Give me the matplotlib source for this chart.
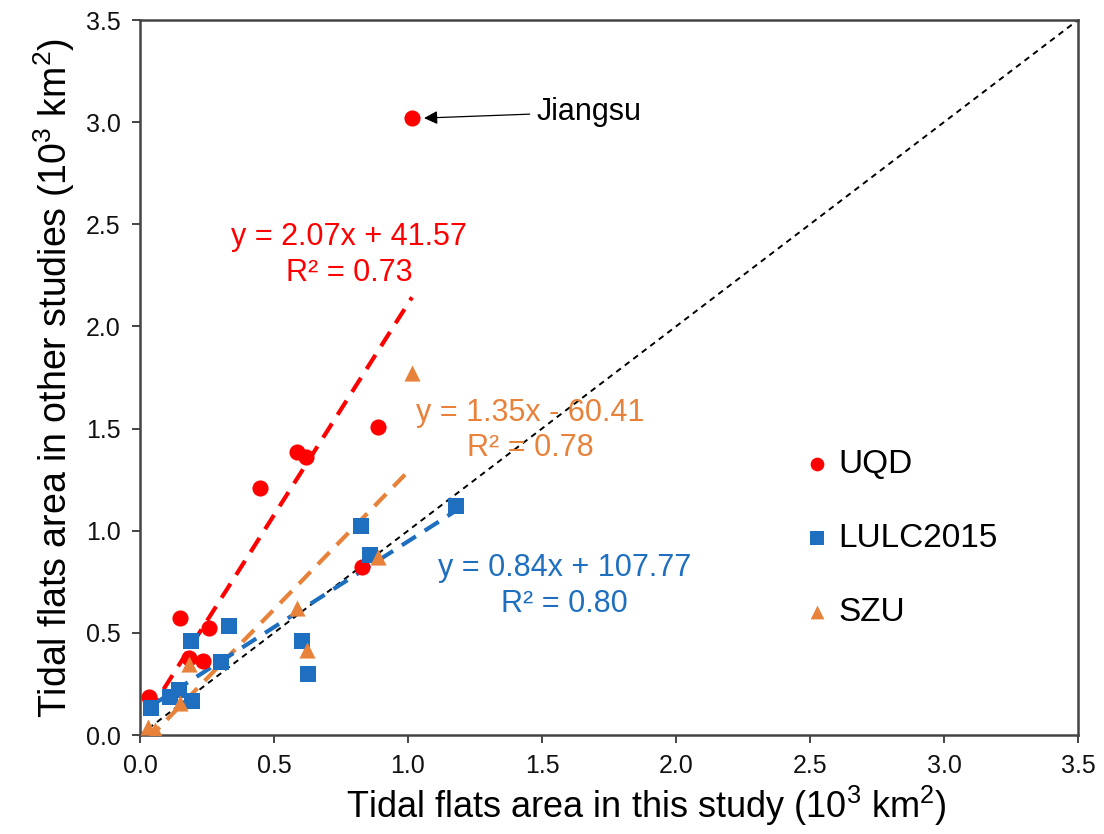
import matplotlib
matplotlib.use("Agg")
import matplotlib.pyplot as plt
import numpy as np

plt.rcParams['font.family'] = ['Liberation Sans', 'DejaVu Sans']
plt.rcParams['mathtext.fontset'] = 'custom'
plt.rcParams['mathtext.rm'] = 'Liberation Sans'

# Data (10^3 km^2)
uqd_x = [1.015, 0.448, 0.586, 0.619, 0.888, 0.828, 0.149, 0.257, 0.183, 0.235, 0.034]
uqd_y = [3.02, 1.209, 1.385, 1.36, 1.51, 0.822, 0.573, 0.524, 0.377, 0.362, 0.186]

lulc_x = [1.179, 0.825, 0.858, 0.190, 0.332, 0.302, 0.604, 0.627, 0.041, 0.112, 0.146, 0.194]
lulc_y = [1.12, 1.023, 0.88, 0.46, 0.534, 0.357, 0.46, 0.298, 0.132, 0.186, 0.22, 0.166]

szu_x = [1.015, 0.888, 0.586, 0.623, 0.183, 0.149, 0.030, 0.056]
szu_y = [1.772, 0.871, 0.62, 0.416, 0.347, 0.157, 0.040, 0.024]

# Regression fits (slope, intercept in km^2 -> /1000)
uqd_fit = (2.07, 41.57)
lulc_fit = (0.84, 107.77)
szu_fit = (1.35, -60.41)

red = '#ff0000'
blue = '#1f6fc0'
orange = '#e8823a'

fig = plt.figure(figsize=(11.04, 8.34), dpi=100)
ax = fig.add_axes([0.1268, 0.1187, 0.8496, 0.8573])

ax.plot([0, 3.5], [0, 3.5], color='black', lw=1.4, ls=(0, (3, 2.5)), zorder=1)

def fitline(xs, fit, color):
    xx = np.array([min(xs), max(xs)])
    yy = fit[0] * xx + fit[1] / 1000.0
    ax.plot(xx, yy, color=color, lw=3, ls=(0, (4, 2.5)), zorder=2)

fitline(uqd_x, uqd_fit, red)
fitline(szu_x, szu_fit, orange)
fitline(lulc_x, lulc_fit, blue)

ax.scatter(uqd_x, uqd_y, marker='o', s=135, color=red, zorder=3, label='UQD', linewidths=0)
ax.scatter(lulc_x, lulc_y, marker='s', s=125, color=blue, zorder=3, label='LULC2015', linewidths=0)
ax.scatter(szu_x, szu_y, marker='^', s=135, color=orange, zorder=3, label='SZU', linewidths=0)

ax.set_xlim(0, 3.5)
ax.set_ylim(0, 3.5)
ticks = [0.0, 0.5, 1.0, 1.5, 2.0, 2.5, 3.0, 3.5]
ax.set_xticks(ticks)
ax.set_yticks(ticks)
ax.set_xticklabels([f'{t:.1f}' for t in ticks])
ax.set_yticklabels([f'{t:.1f}' for t in ticks])
ax.tick_params(labelsize=18, length=6, width=1.4, color='#444444', labelcolor='#111111', pad=8)
for s in ax.spines.values():
    s.set_linewidth(1.8)
    s.set_color('#444444')

ax.set_xlabel('Tidal flats area in this study (10$^3$ km$^2$)', fontsize=26)
ax.xaxis.set_label_coords(0.54, -0.068)
ax.set_ylabel('Tidal flats area in other studies (10$^3$ km$^2$)', fontsize=27, labelpad=6)

ax.text(0.78, 2.35, 'y = 2.07x + 41.57\nR² = 0.73', color=red, fontsize=22,
        ha='center', va='center', linespacing=1.25)
ax.text(1.455, 1.49, 'y = 1.35x - 60.41\nR² = 0.78', color=orange, fontsize=22,
        ha='center', va='center', linespacing=1.25)
ax.text(1.585, 0.73, 'y = 0.84x + 107.77\nR² = 0.80', color=blue, fontsize=22,
        ha='center', va='center', linespacing=1.25)

ax.annotate('Jiangsu', xy=(1.06, 3.02), xytext=(1.48, 3.05), fontsize=22,
            ha='left', va='center',
            arrowprops=dict(arrowstyle='-|>', color='black', lw=0.9, mutation_scale=20,
                            shrinkA=3, shrinkB=0))

leg = ax.legend(loc='center left', bbox_to_anchor=(0.7, 0.275), frameon=False, fontsize=24,
                handletextpad=0.05, labelspacing=1.3, markerscale=0.85, handlelength=1.2,
                borderaxespad=0, borderpad=0)

fig.savefig('out.png', dpi=100)
